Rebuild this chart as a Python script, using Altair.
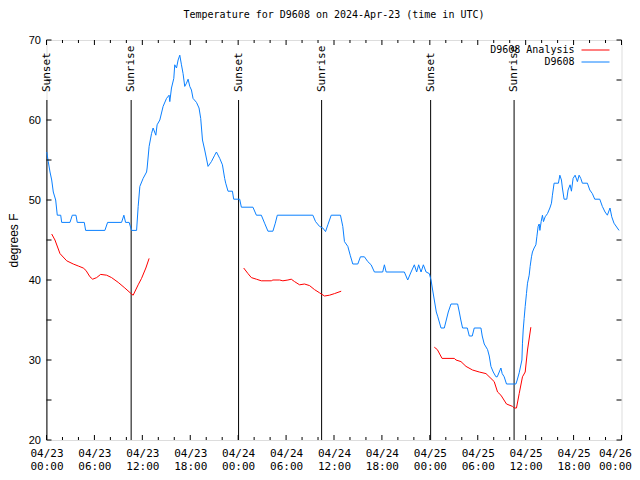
import altair as alt
import pandas as pd

# hours since 2024-04-23 00:00 UTC
blue_t = [0.03, 0.22, 0.44, 0.65, 0.85, 1.15, 1.35, 1.78, 1.90, 2.94, 3.23, 3.69, 3.85, 4.73, 4.90,
          7.31, 7.65, 9.40, 9.69, 9.90, 10.35, 10.65, 11.28, 11.48, 11.69, 12.10, 12.53, 12.60, 12.85,
          13.15, 13.35, 13.69, 13.85, 14.19, 14.60, 15.03, 15.35, 15.44, 15.65, 15.94, 16.06, 16.28,
          16.48, 16.69, 16.90, 17.10, 17.31, 17.53, 17.73, 17.94, 18.15, 18.35, 18.78, 19.10, 19.31,
          19.53, 19.81, 20.23, 20.65, 21.06, 21.28, 21.69, 22.03, 22.31, 22.44, 22.73, 23.28, 23.44,
          24.19, 24.40, 25.85, 26.28, 26.90, 27.31, 27.73, 28.35, 28.65, 28.90, 33.35, 33.69, 34.19,
          34.60, 34.94, 35.23, 35.65, 36.81, 37.10, 37.31, 37.73, 38.03, 38.35, 38.98, 39.31, 39.81,
          40.23, 40.65, 41.06, 42.10, 42.31, 42.53, 44.81, 45.23, 45.65, 46.06, 46.35, 46.60, 46.90,
          47.19, 47.53, 47.94, 48.15, 48.31, 48.56, 48.81, 49.00, 49.40, 49.81, 50.06, 50.31, 50.65,
          51.48, 51.69, 51.88, 52.10, 52.69, 52.94, 53.31, 53.56, 54.40, 54.56, 54.81, 55.23, 55.44,
          55.65, 55.94, 56.28, 56.44, 56.69, 56.90, 57.06, 57.31, 57.60, 58.78, 58.94, 59.19, 59.53,
          59.60, 59.69, 59.81, 59.94, 60.10, 60.23, 60.44, 60.56, 60.73, 60.85, 61.06, 61.28, 61.40,
          61.56, 61.69, 61.78, 61.94, 62.10, 62.23, 62.44, 62.73, 63.03, 63.23, 63.35, 63.56, 64.10,
          64.28, 64.48, 64.60, 64.81, 65.15, 65.31, 65.56, 65.73, 65.94, 66.19, 66.48, 66.69, 66.90,
          67.10, 67.73, 68.03, 68.35, 68.65, 69.28, 69.60, 69.94, 70.23, 70.56, 70.78, 71.06, 71.48,
          71.69]
blue_v = [56, 54.8, 53.5, 52.5, 51, 50, 48.1, 48.1, 47.2, 47.2, 48.1, 48.1, 47.2, 47.2, 46.2,
          46.2, 47.2, 47.2, 48.1, 47.2, 47.2, 46.2, 46.2, 49.2, 51.7, 52.7, 53.5, 54, 56.7,
          58.3, 59, 58.1, 59.4, 60, 61.7, 62.7, 63.1, 62.3, 64, 65.2, 66.9, 66.5,
          67.5, 68.1, 66.9, 65.8, 64.2, 64.6, 65.1, 64.2, 63.75, 62.7, 62.2, 61.5, 60.2,
          57.5, 56.25, 54.2, 54.8, 55.6, 56, 55.2, 54.4, 52.7, 52.1, 51.1, 51.1, 50.1,
          50.1, 49.1, 49.1, 48.1, 48.1, 47.1, 46.1, 46.1, 47.1, 48.1, 48.1, 47.3, 46.7,
          46.5, 46.05, 46.9, 48.1, 48.1, 46.7, 44.8, 44.2, 43.1, 42, 42, 42.9, 42.9,
          42.3, 41.9, 41, 41, 41.9, 41, 41, 40, 41, 41.9, 41, 41.9, 41,
          41.9, 41, 40.8, 40, 39, 37.5, 36, 35.4, 34, 34, 35, 36, 37,
          37, 36, 35, 34, 34, 33, 33, 34, 34, 33, 32, 31.3, 30.5,
          29.2, 28.5, 27.9, 27.9, 28.5, 29, 28.3, 27.9, 27, 27, 27.5, 28.4, 30,
          32.1, 33.75, 35.2, 36.7, 38.3, 39.6, 40.6, 41.7, 42.9, 43.5, 44, 44.4, 45.4,
          46.7, 47, 46.2, 47.3, 48.1, 47.3, 47.9, 48.3, 49, 49.6, 50.6, 52.1, 52.1,
          53.1, 52.5, 51.5, 50.1, 50.1, 51.25, 51.9, 51.1, 52.7, 53.1, 52.3, 53.1, 52.7,
          52.1, 52.1, 51.25, 50.8, 50.1, 50.1, 49.2, 48.5, 48.1, 49, 47.9, 47.1, 46.5,
          46.2]

red_t = [0.65, 1.06, 1.69, 2.53, 3.35, 3.98, 4.60, 4.94, 5.44, 5.78, 6.28, 6.78, 7.53, 8.15, 8.98,
         9.81, 10.65, 10.85, 11.48, 11.90, 12.44, 12.85,
         24.69, 25.23, 25.65, 26.28, 26.90, 28.15, 28.35, 29.19, 29.60, 30.23, 30.65, 31.06, 31.69,
         32.31, 32.94, 33.56, 34.19, 34.81, 35.44, 36.06, 36.90,
         48.56, 48.94, 49.53, 51.06, 51.28, 51.90, 52.53, 53.35, 54.19, 55.03, 55.65, 56.06, 56.48,
         56.90, 57.60, 58.35, 58.56, 58.85, 59.19, 59.60, 59.94, 60.23, 60.65]
red_v = [45.75, 45, 43.3, 42.4, 42, 41.75, 41.5, 41.2, 40.4, 40.1, 40.3, 40.7, 40.6, 40.3, 39.7,
         39, 38.25, 38.1, 39.4, 40.2, 41.5, 42.7,
         41.5, 40.8, 40.3, 40.1, 39.9, 39.9, 40, 40, 39.9, 40, 40.1, 39.8, 39.4,
         39.5, 39.3, 38.8, 38.4, 38, 38.1, 38.3, 38.6,
         31.6, 31.3, 30.2, 30.2, 30, 29.8, 29.2, 28.75, 28.5, 28.3, 27.7, 27.3, 26,
         25.6, 24.5, 24.2, 24, 24, 25.8, 27.9, 28.5, 31.25, 34.1]
red_seg = [1] * 22 + [2] * 21 + [3] * 23

sun_t = [0.05, 10.6, 24.05, 34.45, 48.1, 58.55]
sun_label = ["Sunset", "Sunrise", "Sunset", "Sunrise", "Sunset", "Sunrise"]

x_ticks = list(range(0, 73, 6))
x_minor = [h for h in range(0, 73, 2) if h % 6 != 0]
y_ticks = list(range(20, 71, 5))

series_names = ["D9608 Analysis", "D9608"]
series_colors = ["#ff0000", "#0a80ff"]

blue = pd.DataFrame({"h": blue_t, "v": blue_v, "series": "D9608", "seg": 0})
red = pd.DataFrame({"h": red_t, "v": red_v, "series": "D9608 Analysis", "seg": red_seg})
lines_df = pd.concat([red, blue], ignore_index=True)
sun_df = pd.DataFrame({"h": sun_t, "label": sun_label})
xmaj = pd.DataFrame({"h": x_ticks})
xmin = pd.DataFrame({"h": x_minor})
ymaj = pd.DataFrame({"v": y_ticks})
leg_df = pd.DataFrame({"series": series_names, "row": [0, 1]})

MONO = "DejaVu Sans Mono"
xscale = alt.Scale(domain=[0, 72], nice=False, zero=False)
yscale = alt.Scale(domain=[20, 70], nice=False, zero=False)

label_expr = ("['04/' + (23 + floor(datum.value / 24)), "
              "((datum.value % 24) < 10 ? '0' : '') + (datum.value % 24) + ':00']")

xaxis = alt.Axis(values=x_ticks, labelExpr=label_expr, ticks=False, domain=False, grid=False,
                 labelFont=MONO, labelFontSize=11, labelColor="black", labelPadding=7,
                 labelLineHeight=13, title=None, labelFlush=False, labelOverlap=False,
                 labelBaseline="top",
                 labelAlign=alt.condition("datum.value == 72", alt.value("right"), alt.value("center")),
                 labelOffset=alt.condition("datum.value == 72", alt.value(10), alt.value(0)))
yaxis = alt.Axis(values=y_ticks, ticks=False, domain=False, grid=False,
                 labelFont="Liberation Sans", labelFontSize=11, labelColor="black", labelPadding=6,
                 title="degrees F", titleFont="Liberation Sans", titleFontSize=12,
                 titleFontWeight="normal", titleColor="black", titleX=-33, titleY=200,
                 titleAngle=270, titleAlign="center", titleBaseline="middle")

sun_rules = alt.Chart(sun_df).mark_rule(color="black", strokeWidth=1).encode(
    x=alt.X("h:Q", scale=xscale, axis=xaxis), y=alt.value(60), y2=alt.value(400))
sun_text = alt.Chart(sun_df).mark_text(angle=270, align="left", baseline="middle",
                                       font=MONO, fontSize=11, color="black").encode(
    x=alt.X("h:Q", scale=xscale), y=alt.value(52), text="label:N")

lines = alt.Chart(lines_df).mark_line(strokeWidth=1).encode(
    x=alt.X("h:Q", scale=xscale, axis=xaxis),
    y=alt.Y("v:Q", scale=yscale, axis=yaxis),
    color=alt.Color("series:N", scale=alt.Scale(domain=series_names, range=series_colors), legend=None),
    detail="seg:N",
)

xt_b = alt.Chart(xmaj).mark_rule(color="black").encode(
    x=alt.X("h:Q", scale=xscale), y=alt.value(400), y2=alt.value(395))
xt_t = alt.Chart(xmaj).mark_rule(color="black").encode(
    x=alt.X("h:Q", scale=xscale), y=alt.value(0), y2=alt.value(5))
xm_b = alt.Chart(xmin).mark_rule(color="black").encode(
    x=alt.X("h:Q", scale=xscale), y=alt.value(400), y2=alt.value(397))
xm_t = alt.Chart(xmin).mark_rule(color="black").encode(
    x=alt.X("h:Q", scale=xscale), y=alt.value(0), y2=alt.value(3))
yt_l = alt.Chart(ymaj).mark_rule(color="black").encode(
    y=alt.Y("v:Q", scale=yscale), x=alt.value(0), x2=alt.value(5))
yt_r = alt.Chart(ymaj).mark_rule(color="black").encode(
    y=alt.Y("v:Q", scale=yscale), x=alt.value(575), x2=alt.value(570))

leg_text0 = alt.Chart(leg_df[leg_df.row == 0]).mark_text(
    align="right", baseline="middle", font=MONO, fontSize=10, color="black").encode(
    x=alt.value(528), y=alt.value(10), text="series:N")
leg_text1 = alt.Chart(leg_df[leg_df.row == 1]).mark_text(
    align="right", baseline="middle", font=MONO, fontSize=10, color="black").encode(
    x=alt.value(528), y=alt.value(22), text="series:N")
leg_line0 = alt.Chart(leg_df[leg_df.row == 0]).mark_rule(color="#ff0000").encode(
    x=alt.value(535), x2=alt.value(563), y=alt.value(10))
leg_line1 = alt.Chart(leg_df[leg_df.row == 1]).mark_rule(color="#0a80ff").encode(
    x=alt.value(535), x2=alt.value(563), y=alt.value(22))

chart = alt.layer(
    sun_rules, sun_text, lines, xt_b, xt_t, xm_b, xm_t, yt_l, yt_r,
    leg_text0, leg_text1, leg_line0, leg_line1,
).properties(
    width=575, height=400,
    title=alt.TitleParams("Temperature for D9608 on 2024-Apr-23 (time in UTC)",
                          font=MONO, fontSize=10, fontWeight="normal", color="black",
                          anchor="middle", offset=14),
    autosize=alt.AutoSizeParams(type="none"),
    padding={"left": 38.5, "top": 32, "right": 10.5, "bottom": 32},
).configure_view(stroke="black", strokeWidth=1).configure(background="white")

chart.save("out.html", embed_options={"renderer": "svg", "actions": False})
